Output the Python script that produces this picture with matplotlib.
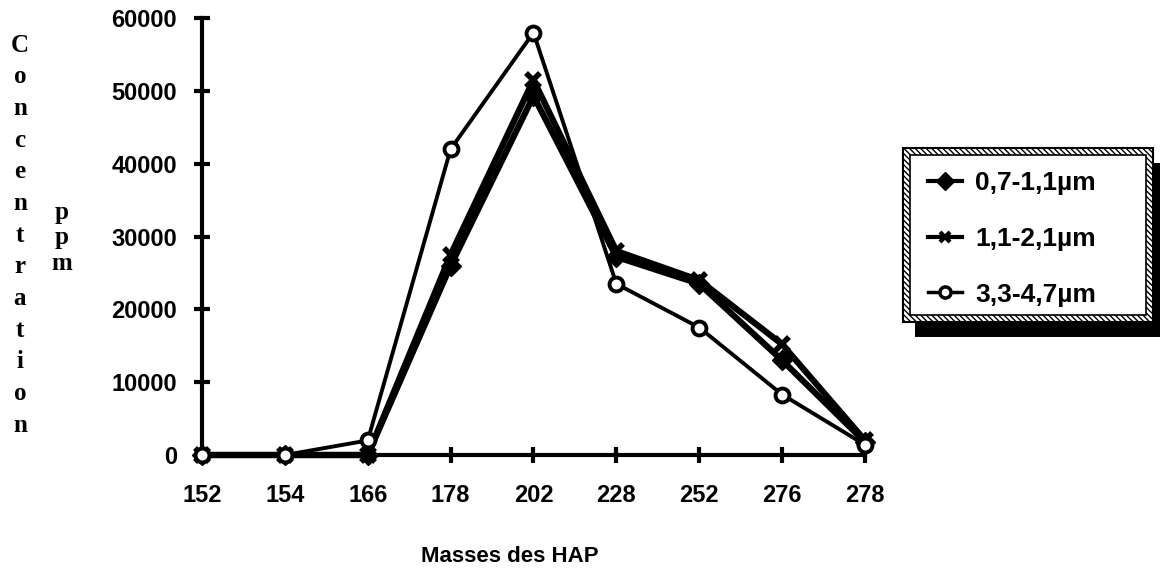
import numpy as np
import matplotlib.pyplot as plt
from matplotlib.patches import Rectangle
from matplotlib.lines import Line2D

masses = ["152", "154", "166", "178", "202", "228", "252", "276", "278"]
s_07_11 = [0, 0, 0, 26000, 49300, 27200, 23500, 13000, 1800]
s_11_21 = [0, 0, 0, 27500, 51500, 28000, 24000, 15200, 2000]
s_33_47 = [0, 0, 2000, 42000, 58000, 23500, 17500, 8300, 1400]
labels = ["0,7-1,1\u00b5m", "1,1-2,1\u00b5m", "3,3-4,7\u00b5m"]
yticks = [0, 10000, 20000, 30000, 40000, 50000, 60000]

W, H = 1160, 571
fig = plt.figure(figsize=(W / 100, H / 100), dpi=100)
ax = fig.add_axes([202 / W, 1 - 455 / H, (865 - 202) / W, (455 - 18) / H])

x = np.arange(len(masses))
sans = "Liberation Sans"

ax.plot(x, s_07_11, color="black", lw=4.5, marker="D", ms=10,
        mfc="black", mec="black", clip_on=False, zorder=3)
ax.plot(x, s_11_21, color="black", lw=4.5, marker="x", ms=10, mew=4,
        clip_on=False, zorder=4)
ax.plot(x, s_33_47, color="black", lw=2.8, marker="o", ms=10, mew=2.8,
        mfc="white", mec="black", clip_on=False, zorder=5)

ax.set_xlim(0, 8)
ax.set_ylim(0, 60000)
ax.set_xticks(x)
ax.set_xticklabels(masses)
ax.set_yticks(yticks)
ax.set_yticklabels([str(v) for v in yticks])

for s in ["top", "right"]:
    ax.spines[s].set_visible(False)
for s in ["left", "bottom"]:
    ax.spines[s].set_linewidth(3)
ax.tick_params(axis="both", direction="inout", length=12, width=3,
               labelsize=17)
ax.tick_params(axis="y", pad=12)
ax.tick_params(axis="x", pad=15)
for t in ax.get_xticklabels() + ax.get_yticklabels():
    t.set_fontfamily(sans)
    t.set_fontweight("bold")

# stacked axis labels
for i, ch in enumerate("Concentration"):
    fig.text(20 / W, 1 - (45 + i * 31.7) / H, ch, ha="center", va="center",
             family="Liberation Serif", weight="bold", fontsize=18)
for i, ch in enumerate("ppm"):
    fig.text(62 / W, 1 - (213 + i * 25) / H, ch, ha="center", va="center",
             family="Liberation Serif", weight="bold", fontsize=18)

fig.text(510 / W, 1 - 556 / H, "Masses des HAP", ha="center", va="center",
         family=sans, weight="bold", fontsize=16)

# legend box: shadow, hatched rope border, white inside
bx0, by0, bx1, by1 = 903, 148, 1153, 322
fig.patches.append(Rectangle(((bx0 + 12) / W, 1 - (by1 + 15) / H),
                             (bx1 - bx0) / W, (by1 - by0) / H,
                             transform=fig.transFigure, facecolor="black",
                             edgecolor="none", zorder=1))
fig.patches.append(Rectangle((bx0 / W, 1 - by1 / H), (bx1 - bx0) / W,
                             (by1 - by0) / H, transform=fig.transFigure,
                             facecolor="white", edgecolor="black", lw=1.5,
                             hatch="\\\\\\\\\\\\", zorder=2))
bw = 7
fig.patches.append(Rectangle(((bx0 + bw) / W, 1 - (by1 - bw) / H),
                             (bx1 - bx0 - 2 * bw) / W,
                             (by1 - by0 - 2 * bw) / H,
                             transform=fig.transFigure, facecolor="white",
                             edgecolor="black", lw=1.2, zorder=3))

handles = [
    Line2D([], [], color="black", lw=3, marker="D", ms=9, mfc="black"),
    Line2D([], [], color="black", lw=3, marker="x", ms=7, mew=3),
    Line2D([], [], color="black", lw=2.5, marker="o", ms=8, mew=2.5,
           mfc="white"),
]
leg = fig.legend(handles, labels, loc="center left",
                 bbox_to_anchor=(904 / W, 1 - 239 / H), frameon=False,
                 prop={"family": sans, "weight": "bold", "size": 19},
                 handlelength=1.3, handletextpad=0.5, labelspacing=1.2)
leg.set_zorder(5)

fig.savefig("out.png", dpi=100)
